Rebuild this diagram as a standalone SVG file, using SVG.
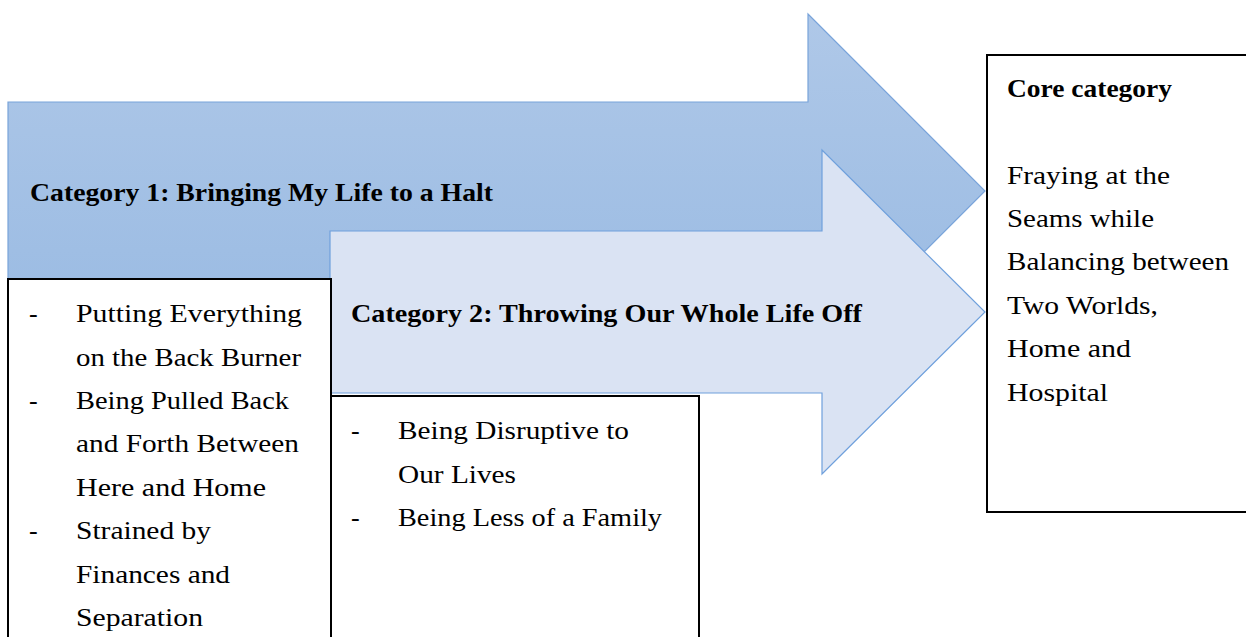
<svg xmlns="http://www.w3.org/2000/svg" width="1246" height="637" viewBox="0 0 1246 637">
<defs>
<linearGradient id="g1" x1="0" y1="0" x2="0" y2="1">
<stop offset="0" stop-color="#AFC8E8"/>
<stop offset="1" stop-color="#97B9E2"/>
</linearGradient>
<style>
.t{font-family:"Liberation Serif","DejaVu Serif",serif;font-size:26px;fill:#000}
.b{font-weight:bold;font-size:25px}
.box{fill:#fff;stroke:#000;stroke-width:2}
</style>
</defs>
<rect width="1246" height="637" fill="#fff"/>
<g id="arrow1">
<polygon points="8,102 808,102 808,14 985,191 808,368 808,279 8,279" fill="url(#g1)" stroke="#79A4DA" stroke-width="1.2"/>
<text class="t b" x="30" y="201" textLength="463" lengthAdjust="spacingAndGlyphs">Category 1: Bringing My Life to a Halt</text>
</g>
<g id="arrow2">
<polygon points="330,231 822,231 822,150 985,312 822,474 822,393 330,393" fill="#DAE3F3" stroke="#6FA0DC" stroke-width="1.2"/>
<text class="t b" x="351" y="322" textLength="511" lengthAdjust="spacingAndGlyphs">Category 2: Throwing Our Whole Life Off</text>
</g>
<g id="box1">
<rect class="box" x="8" y="279" width="323" height="370"/>
<text class="t" x="29" y="322">-</text>
<text class="t" x="76" y="322" textLength="226" lengthAdjust="spacingAndGlyphs">Putting Everything</text>
<text class="t" x="76" y="366" textLength="225" lengthAdjust="spacingAndGlyphs">on the Back Burner</text>
<text class="t" x="29" y="409">-</text>
<text class="t" x="76" y="409" textLength="213" lengthAdjust="spacingAndGlyphs">Being Pulled Back</text>
<text class="t" x="76" y="452" textLength="223" lengthAdjust="spacingAndGlyphs">and Forth Between</text>
<text class="t" x="76" y="496" textLength="190" lengthAdjust="spacingAndGlyphs">Here and Home</text>
<text class="t" x="29" y="539">-</text>
<text class="t" x="76" y="539" textLength="135" lengthAdjust="spacingAndGlyphs">Strained by</text>
<text class="t" x="76" y="583" textLength="154" lengthAdjust="spacingAndGlyphs">Finances and</text>
<text class="t" x="76" y="626" textLength="127" lengthAdjust="spacingAndGlyphs">Separation</text>
</g>
<g id="box2">
<rect class="box" x="331" y="396" width="368" height="260"/>
<text class="t" x="351" y="439">-</text>
<text class="t" x="398" y="439" textLength="231" lengthAdjust="spacingAndGlyphs">Being Disruptive to</text>
<text class="t" x="398" y="483" textLength="118" lengthAdjust="spacingAndGlyphs">Our Lives</text>
<text class="t" x="351" y="526">-</text>
<text class="t" x="398" y="526" textLength="264" lengthAdjust="spacingAndGlyphs">Being Less of a Family</text>
</g>
<g id="core">
<rect class="box" x="987" y="55" width="270" height="457"/>
<text class="t b" x="1007" y="97" textLength="165" lengthAdjust="spacingAndGlyphs">Core category</text>
<text class="t" x="1007" y="184" textLength="163" lengthAdjust="spacingAndGlyphs">Fraying at the</text>
<text class="t" x="1007" y="227" textLength="147" lengthAdjust="spacingAndGlyphs">Seams while</text>
<text class="t" x="1007" y="270" textLength="222" lengthAdjust="spacingAndGlyphs">Balancing between</text>
<text class="t" x="1007" y="314" textLength="151" lengthAdjust="spacingAndGlyphs">Two Worlds,</text>
<text class="t" x="1007" y="357" textLength="124" lengthAdjust="spacingAndGlyphs">Home and</text>
<text class="t" x="1007" y="401" textLength="101" lengthAdjust="spacingAndGlyphs">Hospital</text>
</g>
<g id="connectors"/>
</svg>
